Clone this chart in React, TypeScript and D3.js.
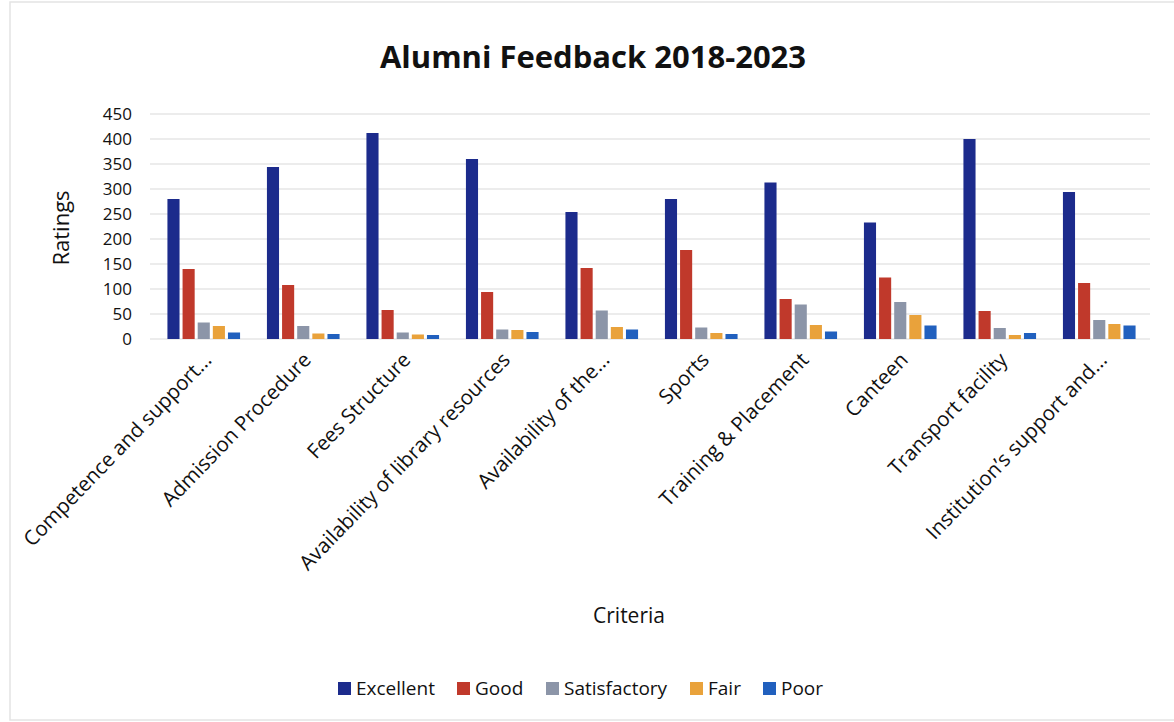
import React from "react";
import * as d3 from "d3";

const categories = [
  "Competence and support...",
  "Admission Procedure",
  "Fees Structure",
  "Availability of library resources",
  "Availability of the...",
  "Sports",
  "Training & Placement",
  "Canteen",
  "Transport facility",
  "Institution’s support and...",
];

const seriesNames = ["Excellent", "Good", "Satisfactory", "Fair", "Poor"];

const excellent = [280, 344, 412, 360, 254, 280, 313, 233, 400, 294];
const good = [140, 108, 58, 94, 142, 178, 80, 123, 56, 112];
const satisfactory = [33, 26, 13, 19, 57, 23, 69, 74, 22, 38];
const fair = [26, 11, 9, 18, 24, 12, 28, 48, 8, 30];
const poor = [13, 10, 8, 14, 19, 10, 15, 27, 12, 27];

const yTicks = [0, 50, 100, 150, 200, 250, 300, 350, 400, 450];

const seriesValues = [excellent, good, satisfactory, fair, poor];
const colors = ["#1c2b8c", "#c0392b", "#8c95a8", "#e9a23b", "#2160be"];

const W = 1174;
const H = 722;
const FONT = "'Open Sans', Lato, sans-serif";

export default function App() {
  const x0 = d3
    .scaleBand<string>()
    .domain(categories)
    .range([154, 1149])
    .paddingInner(0.27)
    .paddingOuter(0.135);
  const x1 = d3
    .scaleBand<string>()
    .domain(seriesNames)
    .range([0, x0.bandwidth()])
    .paddingInner(0.2);
  const y = d3.scaleLinear().domain([0, 450]).range([339, 114]);

  const legendX = [338, 457, 546, 690, 763];

  return (
    <svg
      width={W}
      height={H}
      style={{ position: "absolute", left: 0, top: 0, background: "#fff" }}
      fontFamily={FONT}
    >
      <rect x={10} y={2} width={1170} height={718} fill="none" stroke="#e4e4e4" strokeWidth={1.5} />
      <text x={593} y={68} textAnchor="middle" fontSize={31} fontWeight={700} fill="#111">
        Alumni Feedback 2018-2023
      </text>
      {yTicks.map((t) => (
        <g key={t}>
          <line x1={150} x2={1150} y1={y(t)} y2={y(t)} stroke="#d9d9d9" strokeWidth={1} />
          <text x={132} y={y(t)} dy="0.35em" textAnchor="end" fontSize={17} fill="#111">
            {t}
          </text>
        </g>
      ))}
      {categories.map((c, i) => (
        <g key={c} transform={`translate(${x0(c)},0)`}>
          {seriesNames.map((s, j) => (
            <rect
              key={s}
              x={x1(s)}
              y={y(seriesValues[j][i])}
              width={x1.bandwidth()}
              height={y(0) - y(seriesValues[j][i])}
              fill={colors[j]}
            />
          ))}
        </g>
      ))}
      {categories.map((c) => {
        const cx = (x0(c) as number) + x0.bandwidth() / 2 + 9;
        return (
          <text
            key={c}
            transform={`translate(${cx},361) rotate(-46)`}
            textAnchor="end"
            fontSize={20.5}
            fill="#111"
          >
            {c}
          </text>
        );
      })}
      <text
        transform={`translate(69,228) rotate(-90)`}
        textAnchor="middle"
        fontSize={22}
        fill="#111"
      >
        Ratings
      </text>
      <text x={629} y={623} textAnchor="middle" fontSize={21} fill="#111">
        Criteria
      </text>
      {seriesNames.map((s, j) => {
        const lx = legendX[j];
        return (
          <g key={s}>
            <rect x={lx} y={682} width={13} height={13} fill={colors[j]} />
            <text x={lx + 18} y={688.5} dy="0.35em" fontSize={19} fill="#111">
              {s}
            </text>
          </g>
        );
      })}
    </svg>
  );
}
